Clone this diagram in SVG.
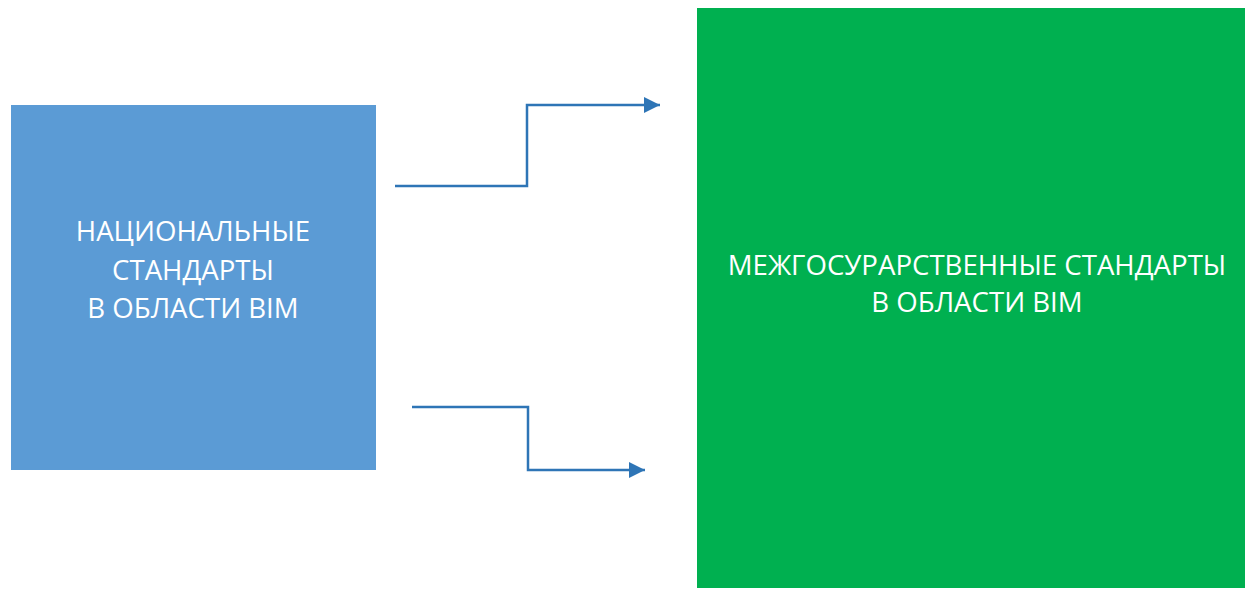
<svg xmlns="http://www.w3.org/2000/svg" width="1245" height="589" viewBox="0 0 1245 589">
<style>
.lbl{font-family:"Open Sans","Liberation Sans",sans-serif;font-size:27.6px;fill:#ffffff;text-anchor:middle}
.con{fill:none;stroke:#2E75B6;stroke-width:2.5}
</style>
<defs>
<marker id="arr" markerUnits="userSpaceOnUse" markerWidth="17" markerHeight="16" refX="16" refY="8" orient="auto">
<path d="M0,0 L16,8 L0,16 Z" fill="#2E75B6"/>
</marker>
</defs>
<rect width="1245" height="589" fill="#ffffff"/>
<g id="node-national">
<rect x="11" y="105" width="365" height="365" fill="#5B9BD5"/>
<text class="lbl" x="193" y="241">НАЦИОНАЛЬНЫЕ</text>
<text class="lbl" x="193" y="280">СТАНДАРТЫ</text>
<text class="lbl" x="193" y="318">В ОБЛАСТИ BIM</text>
</g>
<g id="node-interstate">
<rect x="697" y="8" width="548" height="580" fill="#00B050"/>
<text class="lbl" x="977" y="275">МЕЖГОСУРАРСТВЕННЫЕ СТАНДАРТЫ</text>
<text class="lbl" x="977" y="312">В ОБЛАСТИ BIM</text>
</g>
<g id="connectors">
<polyline class="con" points="395,186 527,186 527,105 660,105" marker-end="url(#arr)"/>
<polyline class="con" points="412,407 528,407 528,470 645,470" marker-end="url(#arr)"/>
</g>
</svg>
